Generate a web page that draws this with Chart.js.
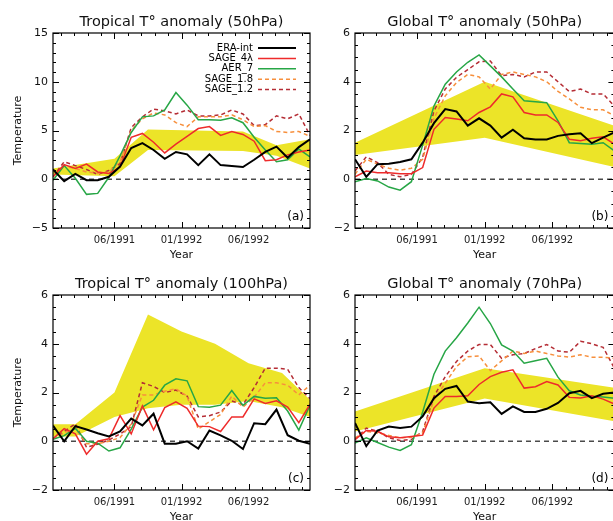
<!DOCTYPE html>
<html>
<head>
<meta charset="utf-8">
<script src="https://cdn.jsdelivr.net/npm/chart.js@4.4.1/dist/chart.umd.min.js"></script>
<style>
  html, body { margin: 0; padding: 0; background: #fff; overflow: hidden; width: 613px; height: 521px; }
  canvas { position: absolute; }
</style>
</head>
<body>
<canvas id="pa" width="320" height="262" style="left:0px; top:0px"></canvas>
<canvas id="pb" width="330" height="262" style="left:300px; top:0px"></canvas>
<canvas id="pc" width="320" height="262" style="left:0px; top:262px"></canvas>
<canvas id="pd" width="330" height="262" style="left:300px; top:262px"></canvas>
<script type="text/javascript">
	// monthly index, 0 = 01/1991 ... 23 = 12/1992
	var months = [0, 1, 2, 3, 4, 5, 6, 7, 8, 9, 10, 11, 12, 13, 14, 15, 16, 17, 18, 19, 20, 21, 22, 23];
	var xTickPos = [5.5, 11.5, 17.5];
	var xTickLabels = ['06/1991', '01/1992', '06/1992'];
	var seriesNames = ['ERA-int', 'SAGE_4λ', 'AER_7', 'SAGE_1.8', 'SAGE_1.2'];
	var zeroX = [0, 23];
	var zeroY = [0, 0];

	// (a) tropical 50hPa
	var eraA   = [1.0, -0.2, 0.55, -0.1, -0.1, 0.25, 1.3, 3.2, 3.7, 3.0, 2.1, 2.8, 2.55, 1.45, 2.55, 1.45, 1.35, 1.25, 2.0, 2.8, 3.35, 2.2, 3.3, 4.1];
	var sage4A = [0.25, 1.5, 1.1, 1.55, 0.75, 0.6, 1.25, 4.3, 4.7, 3.8, 2.7, 3.6, 4.4, 5.2, 5.4, 4.5, 4.9, 4.6, 3.9, 1.9, 2.0, 2.5, 2.8, 3.0];
	var aerA   = [-0.1, 1.4, 0.1, -1.55, -1.45, 0.2, 2.4, 4.8, 6.4, 6.5, 7.1, 8.9, 7.6, 6.1, 6.1, 6.05, 6.3, 5.8, 4.3, 3.0, 1.8, 2.0, 3.1, 2.3];
	var s18A   = [0.25, 1.4, 1.1, 0.75, 0.6, 0.75, 1.8, 5.0, 6.2, 6.8, 6.6, 5.8, 5.4, 6.4, 6.4, 6.4, 6.6, 6.1, 5.4, 5.5, 4.9, 4.8, 4.9, 4.4];
	var s12A   = [0.25, 1.8, 1.4, 1.0, 0.5, 0.9, 1.6, 5.3, 6.4, 7.2, 7.0, 6.7, 7.1, 6.5, 6.5, 6.6, 7.1, 6.7, 5.5, 5.6, 6.5, 6.2, 6.7, 4.5];
	var bandXA  = [0, 5.5, 8.5, 17, 20, 23];
	var bandLoA = [0.5, 0.3, 3.0, 2.9, 2.4, 1.1];
	var bandHiA = [1.1, 2.1, 5.1, 4.9, 3.5, 4.1];

	// (b) global 50hPa
	var eraB   = [0.82, 0.1, 0.62, 0.64, 0.71, 0.82, 1.5, 2.3, 2.88, 2.78, 2.2, 2.5, 2.2, 1.71, 2.03, 1.68, 1.63, 1.63, 1.78, 1.85, 1.89, 1.48, 1.71, 1.92];
	var sage4B = [0.1, 0.34, 0.27, 0.27, 0.23, 0.23, 0.48, 2.05, 2.53, 2.47, 2.4, 2.74, 2.97, 3.5, 3.38, 2.74, 2.64, 2.64, 2.33, 1.64, 1.58, 1.68, 1.74, 1.44];
	var aerB   = [-0.1, 0.03, -0.07, -0.32, -0.45, -0.1, 1.4, 3.0, 3.9, 4.4, 4.8, 5.1, 4.65, 4.2, 3.7, 3.22, 3.18, 3.14, 2.4, 1.5, 1.47, 1.44, 1.5, 1.16];
	var s18B   = [0.2, 0.82, 0.62, 0.45, 0.37, 0.45, 0.82, 2.5, 3.42, 3.97, 4.3, 4.2, 3.7, 4.3, 4.4, 4.3, 4.2, 4.0, 3.6, 3.3, 2.95, 2.85, 2.85, 2.6];
	var s12B   = [0.34, 0.92, 0.68, 0.2, 0.1, 0.2, 0.9, 2.8, 3.7, 4.18, 4.5, 4.82, 4.85, 4.25, 4.3, 4.2, 4.4, 4.4, 4.0, 3.6, 3.7, 3.5, 3.5, 3.0];
	var bandXB  = [0, 11.5, 23];
	var bandLoB = [1.0, 1.7, 0.5];
	var bandHiB = [1.5, 4.0, 2.2];

	// (c) tropical 100hPa
	var eraC   = [0.64, 0.0, 0.62, 0.48, 0.33, 0.2, 0.4, 0.93, 0.65, 1.13, -0.1, -0.1, 0.0, -0.3, 0.44, 0.24, 0.02, -0.32, 0.74, 0.7, 1.3, 0.25, 0.02, -0.1];
	var sage4C = [0.1, 0.52, 0.3, -0.53, 0.0, 0.1, 1.05, 0.3, 1.45, 0.47, 1.38, 1.62, 1.35, 0.62, 0.6, 0.4, 1.0, 1.0, 1.74, 1.55, 1.66, 1.4, 0.76, 1.52];
	var aerC   = [0.08, 0.23, 0.53, 0.0, -0.08, -0.4, -0.27, 0.5, 1.4, 1.68, 2.3, 2.56, 2.48, 1.42, 1.4, 1.48, 2.08, 1.47, 1.84, 1.76, 1.78, 1.24, 0.46, 1.48];
	var s18C   = [0.1, 0.35, 0.5, -0.1, -0.1, 0.0, 0.15, 0.7, 1.9, 1.9, 2.05, 2.15, 1.85, 0.5, 0.8, 1.1, 1.85, 1.4, 1.8, 2.4, 2.4, 2.3, 1.9, 2.3];
	var s12C   = [0.1, 0.4, 0.72, -0.25, -0.12, 0.05, 0.3, 0.6, 2.4, 2.25, 2.0, 2.1, 1.85, 1.0, 1.05, 1.2, 1.65, 1.5, 2.2, 3.0, 3.0, 2.95, 2.2, 1.75];
	var bandXC  = [0, 2, 5.5, 8.5, 11.5, 14.5, 17.5, 20.5, 23];
	var bandLoC = [0.2, 0.2, 1.0, 1.35, 1.5, 1.5, 1.65, 1.4, 1.0];
	var bandHiC = [0.7, 0.7, 2.0, 5.2, 4.5, 4.0, 3.2, 2.8, 1.7];

	// (d) global 70hPa
	var eraD   = [0.75, -0.2, 0.44, 0.6, 0.54, 0.6, 1.02, 1.77, 2.15, 2.27, 1.63, 1.56, 1.6, 1.12, 1.43, 1.2, 1.2, 1.33, 1.57, 1.97, 2.07, 1.77, 1.95, 2.0];
	var sage4D = [0.07, 0.44, 0.41, 0.18, 0.14, 0.19, 0.25, 1.36, 1.84, 1.84, 1.87, 2.33, 2.65, 2.83, 2.93, 2.18, 2.24, 2.45, 2.31, 1.8, 1.77, 1.87, 1.73, 1.53];
	var aerD   = [-0.07, 0.14, -0.05, -0.24, -0.38, -0.14, 1.2, 2.75, 3.7, 4.25, 4.85, 5.5, 4.83, 3.95, 3.7, 3.2, 3.3, 3.4, 2.63, 2.07, 1.9, 1.85, 1.82, 1.76];
	var s18D   = [0.14, 0.41, 0.34, 0.24, 0.14, 0.16, 0.34, 1.7, 2.38, 3.06, 3.47, 3.5, 2.9, 3.3, 3.7, 3.6, 3.7, 3.6, 3.5, 3.45, 3.55, 3.45, 3.45, 3.4];
	var s12D   = [0.07, 0.54, 0.41, 0.14, 0.03, 0.07, 0.41, 1.84, 2.65, 3.27, 3.7, 3.97, 3.97, 3.4, 3.55, 3.6, 3.8, 3.97, 3.7, 3.65, 4.1, 4.0, 3.85, 3.0];
	var bandXD  = [0, 11.5, 23];
	var bandLoD = [0.4, 1.75, 0.82];
	var bandHiD = [1.22, 3.0, 2.2];

	var FONT = '"DejaVu Sans", "Liberation Sans", sans-serif';
	var lineStyles = [
		{ color: '#000000', width: 2.0, dash: [] },
		{ color: '#ee2b2b', width: 1.5, dash: [] },
		{ color: '#27a646', width: 1.5, dash: [] },
		{ color: '#f78f3c', width: 1.5, dash: [4, 3] },
		{ color: '#b52d35', width: 1.5, dash: [4, 3] }
	];
	var bandColor = '#ece428';

	function pts(xs, ys) {
		return ys.map(function(v, i) { return { x: xs[i], y: v }; });
	}

	// IDL style box with inward ticks on all four sides, plus the panel tag
	var idlAxes = {
		id: 'idlAxes',
		afterDatasetsDraw: function(chart, args, o) {
			var ctx = chart.ctx, a = chart.chartArea;
			var xs = chart.scales.x, ys = chart.scales.y;
			var v, p;
			ctx.save();
			ctx.strokeStyle = '#000';
			ctx.lineWidth = 1.2;
			ctx.strokeRect(a.left, a.top, a.right - a.left, a.bottom - a.top);
			ctx.lineWidth = 1;
			ctx.beginPath();
			function xt(val, len) {
				p = Math.round(xs.getPixelForValue(val)) + 0.5;
				ctx.moveTo(p, a.bottom); ctx.lineTo(p, a.bottom - len);
				ctx.moveTo(p, a.top); ctx.lineTo(p, a.top + len);
			}
			function yt(val, len) {
				p = Math.round(ys.getPixelForValue(val)) + 0.5;
				ctx.moveTo(a.left, p); ctx.lineTo(a.left + len, p);
				ctx.moveTo(a.right, p); ctx.lineTo(a.right - len, p);
			}
			xTickPos.forEach(function(t) { xt(t, 6); });
			for (v = xTickPos[0] - 1.2; v > xs.min; v -= 1.2) xt(v, 3);
			for (v = xTickPos[0] + 1.2; v < xs.max; v += 1.2) {
				if (Math.abs((v - xTickPos[0]) % 6) > 0.01 && Math.abs((v - xTickPos[0]) % 6 - 6) > 0.01) xt(v, 3);
			}
			for (v = o.yMin; v <= o.yMax + 1e-6; v += o.yMinor) {
				var isMajor = Math.abs(v / o.yMajor - Math.round(v / o.yMajor)) < 1e-6;
				yt(v, isMajor ? 6 : 3);
			}
			ctx.stroke();
			ctx.fillStyle = '#000';
			ctx.font = '12px ' + FONT;
			ctx.textAlign = 'right';
			ctx.textBaseline = 'middle';
			ctx.fillText(o.tag, a.right - 6, a.bottom - 11);
			ctx.restore();
		}
	};

	// legend: text on the left, line sample on the right
	var lineKey = {
		id: 'lineKey',
		afterDatasetsDraw: function(chart, args, o) {
			if (!o.show) return;
			var ctx = chart.ctx;
			ctx.save();
			ctx.font = '10px ' + FONT;
			ctx.textAlign = 'right';
			ctx.textBaseline = 'middle';
			for (var i = 0; i < seriesNames.length; i++) {
				var ds = chart.data.datasets[i];
				var y = o.y + i * o.gap;
				ctx.fillStyle = '#000';
				ctx.fillText(ds.label, o.x, y);
				ctx.strokeStyle = ds.borderColor;
				ctx.lineWidth = ds.borderWidth;
				ctx.setLineDash(ds.borderDash);
				ctx.beginPath();
				ctx.moveTo(o.x + 5, y);
				ctx.lineTo(o.x + 43, y);
				ctx.stroke();
			}
			ctx.restore();
		}
	};

	function makePanel(id, p) {
		var datasets = [];
		p.series.forEach(function(s, i) {
			datasets.push({
				label: seriesNames[i],
				data: pts(months, s),
				borderColor: lineStyles[i].color,
				borderWidth: lineStyles[i].width,
				borderDash: lineStyles[i].dash,
				pointRadius: 0,
				tension: 0,
				fill: false
			});
		});
		datasets.push({
			label: 'zero',
			data: pts(zeroX, zeroY),
			borderColor: '#4a4a4a',
			borderWidth: 1.4,
			borderDash: [5, 4],
			pointRadius: 0,
			fill: false
		});
		datasets.push({
			label: 'range hi',
			data: pts(p.bandX, p.bandHi),
			borderWidth: 0,
			borderColor: bandColor,
			backgroundColor: bandColor,
			pointRadius: 0,
			tension: 0,
			fill: '+1'
		});
		datasets.push({
			label: 'range lo',
			data: pts(p.bandX, p.bandLo),
			borderWidth: 0,
			borderColor: bandColor,
			pointRadius: 0,
			tension: 0,
			fill: false
		});

		return new Chart(document.getElementById(id), {
			type: 'line',
			data: { datasets: datasets },
			options: {
				responsive: false,
				animation: false,
				devicePixelRatio: 1,
				layout: { padding: { left: 0, right: p.padRight, top: 0, bottom: 0 } },
				plugins: {
					legend: { display: false },
					tooltip: { enabled: false },
					title: {
						display: true,
						text: p.title,
						fullSize: false,
						color: '#111',
						font: { family: FONT, size: 14.5, weight: 'normal' },
						padding: { top: 14, bottom: 1.6 }
					},
					idlAxes: { yMin: p.yMin, yMax: p.yMax, yMajor: p.yMajor, yMinor: p.yMinor, tag: p.tag },
					lineKey: { show: !!p.legend, x: 253, y: 48, gap: 10.4 }
				},
				scales: {
					x: {
						type: 'linear',
						min: 0,
						max: 23,
						grid: { display: false, drawTicks: false },
						border: { display: false },
						afterBuildTicks: function(s) {
							s.ticks = xTickPos.map(function(v) { return { value: v }; });
						},
						afterFit: function(s) { s.height = 34; },
						ticks: {
							padding: 6,
							color: '#222',
							font: { family: FONT, size: 10 },
							maxRotation: 0,
							autoSkip: false,
							callback: function(v, i) { return xTickLabels[i]; }
						},
						title: {
							display: true,
							text: 'Year',
							color: '#111',
							font: { family: FONT, size: 11 },
							padding: { top: 0, bottom: 0 }
						}
					},
					y: {
						min: p.yMin,
						max: p.yMax,
						grid: { display: false, drawTicks: false },
						border: { display: false },
						afterFit: function(s) { s.width = p.yWidth; },
						ticks: {
							stepSize: p.yMajor,
							padding: 5,
							color: '#111',
							font: { family: FONT, size: 11 },
							callback: function(v) { return String(v).replace('-', '\u2212'); }
						},
						title: {
							display: !!p.yTitle,
							text: 'Temperature',
							color: '#111',
							font: { family: FONT, size: 11 },
							padding: { top: 11.4, bottom: 0 }
						}
					}
				}
			},
			plugins: [idlAxes, lineKey]
		});
	}

	makePanel('pa', {
		title: 'Tropical T\u00b0 anomaly (50hPa)', tag: '(a)', legend: true, yTitle: true,
		yMin: -5, yMax: 15, yMajor: 5, yMinor: 1, yWidth: 53, padRight: 10,
		series: [eraA, sage4A, aerA, s18A, s12A], bandX: bandXA, bandLo: bandLoA, bandHi: bandHiA
	});
	makePanel('pb', {
		title: 'Global T\u00b0 anomaly (50hPa)', tag: '(b)', legend: false, yTitle: false,
		yMin: -2, yMax: 6, yMajor: 2, yMinor: 0.5, yWidth: 55, padRight: 15.6,
		series: [eraB, sage4B, aerB, s18B, s12B], bandX: bandXB, bandLo: bandLoB, bandHi: bandHiB
	});
	makePanel('pc', {
		title: 'Tropical T\u00b0 anomaly (100hPa)', tag: '(c)', legend: false, yTitle: true,
		yMin: -2, yMax: 6, yMajor: 2, yMinor: 0.5, yWidth: 53, padRight: 10,
		series: [eraC, sage4C, aerC, s18C, s12C], bandX: bandXC, bandLo: bandLoC, bandHi: bandHiC
	});
	makePanel('pd', {
		title: 'Global T\u00b0 anomaly (70hPa)', tag: '(d)', legend: false, yTitle: false,
		yMin: -2, yMax: 6, yMajor: 2, yMinor: 0.5, yWidth: 55, padRight: 15.6,
		series: [eraD, sage4D, aerD, s18D, s12D], bandX: bandXD, bandLo: bandLoD, bandHi: bandHiD
	});
</script>
</body>
</html>
